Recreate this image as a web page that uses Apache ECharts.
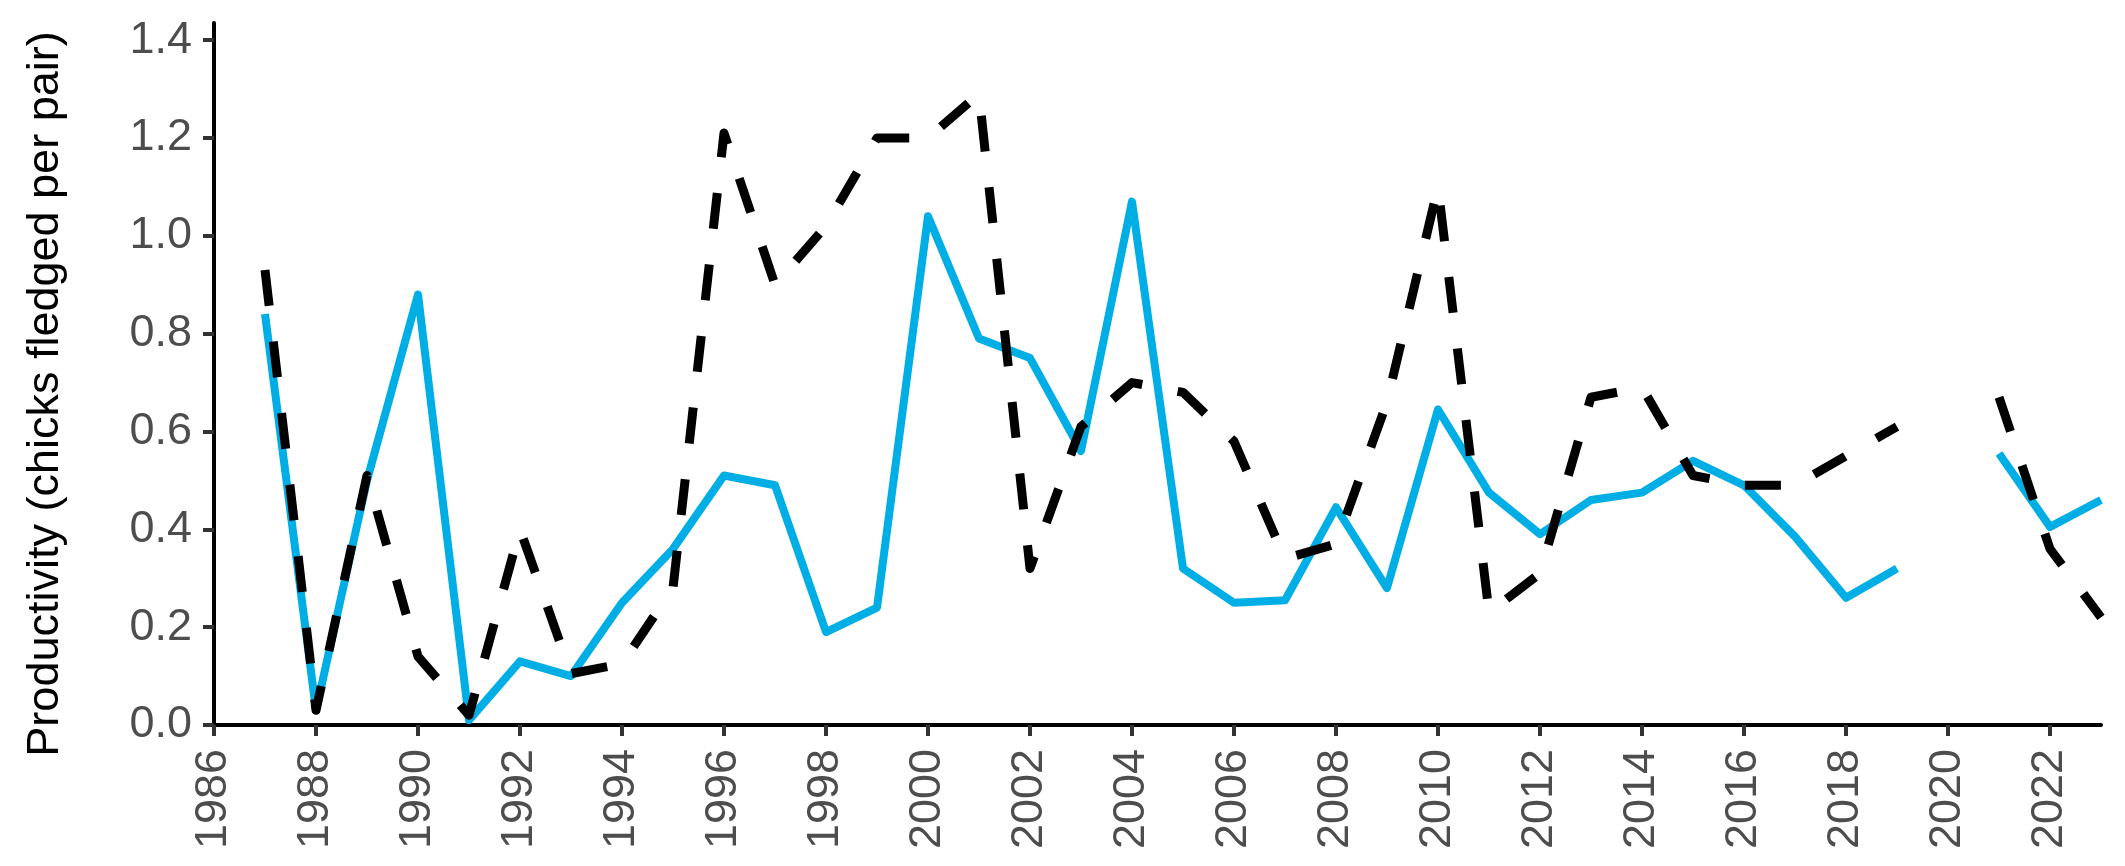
<!DOCTYPE html>
<html>
<head>
<meta charset="utf-8">
<script src="https://cdn.jsdelivr.net/npm/echarts@6/dist/echarts.min.js"></script>
<style>
html,body{margin:0;padding:0;background:#fff;}
#chart{width:2125px;height:866px;}
</style>
</head>
<body>
<div id="chart"></div>
<script>
var years = [1987,1988,1989,1990,1991,1992,1993,1994,1995,1996,1997,1998,1999,2000,2001,2002,2003,2004,2005,2006,2007,2008,2009,2010,2011,2012,2013,2014,2015,2016,2017,2018,2019,2020,2021,2022,2023];
var blueSeries = [0.84,0.03,0.50,0.88,0.01,0.13,0.10,0.25,0.36,0.51,0.49,0.19,0.24,1.04,0.79,0.75,0.56,1.07,0.32,0.25,0.255,0.445,0.28,0.645,0.475,0.39,0.46,0.475,0.54,0.49,0.385,0.26,0.32,null,0.555,0.405,0.46];
var blackSeries = [0.93,0.03,0.51,0.14,0.02,0.40,0.105,0.125,0.28,1.21,0.90,1.02,1.20,1.20,1.29,0.32,0.61,0.70,0.68,0.58,0.34,0.37,0.66,1.10,0.23,0.31,0.67,0.69,0.51,0.49,0.49,0.55,0.61,null,0.67,0.36,0.22];
var xTicks = [1986,1988,1990,1992,1994,1996,1998,2000,2002,2004,2006,2008,2010,2012,2014,2016,2018,2020,2022];
var yTicks = [0,0.2,0.4,0.6,0.8,1.0,1.2,1.4];
var yAxisTitle = 'Productivity (chicks fledged per pair)';

function pairs(arr){ return years.map(function(y,i){ return [y, arr[i]]; }); }

var chart = echarts.init(document.getElementById('chart'), null, {renderer:'canvas'});
var font = '"Liberation Sans", Arial, sans-serif';
chart.setOption({
  animation:false,
  backgroundColor:'#ffffff',
  grid:{left:214,right:24,top:23,bottom:141,containLabel:false},
  xAxis:{
    type:'value', min:1986, max:2023,
    splitLine:{show:false},
    axisLine:{show:true,onZero:false,lineStyle:{color:'#000',width:4}},
    axisTick:{show:true,length:11,customValues:xTicks,lineStyle:{color:'#333',width:4}},
    axisLabel:{customValues:xTicks,rotate:90,margin:24,fontSize:45,color:'#4d4d4d',fontFamily:font,
      formatter:function(v){return String(v);}}
  },
  yAxis:{
    type:'value', min:0, max:1.435,
    name:yAxisTitle, nameLocation:'middle', nameGap:146,
    nameTextStyle:{fontSize:45,color:'#000',fontFamily:font,padding:[0,40,0,0]},
    splitLine:{show:false},
    axisLine:{show:true,lineStyle:{color:'#000',width:4}},
    axisTick:{show:true,length:11,customValues:yTicks,lineStyle:{color:'#333',width:4}},
    axisLabel:{customValues:yTicks,margin:22,fontSize:45,color:'#4d4d4d',fontFamily:font,
      formatter:function(v){return v.toFixed(1);}}
  },
  series:[
    {type:'line',data:pairs(blueSeries),showSymbol:false,connectNulls:false,
      lineStyle:{color:'#00aee6',width:8,cap:'butt',join:'round'},z:2},
    {type:'line',data:pairs(blackSeries),showSymbol:false,connectNulls:false,
      lineStyle:{color:'#000',width:9,type:[36,36],cap:'butt',join:'round'},z:3}
  ]
});
</script>
</body>
</html>
